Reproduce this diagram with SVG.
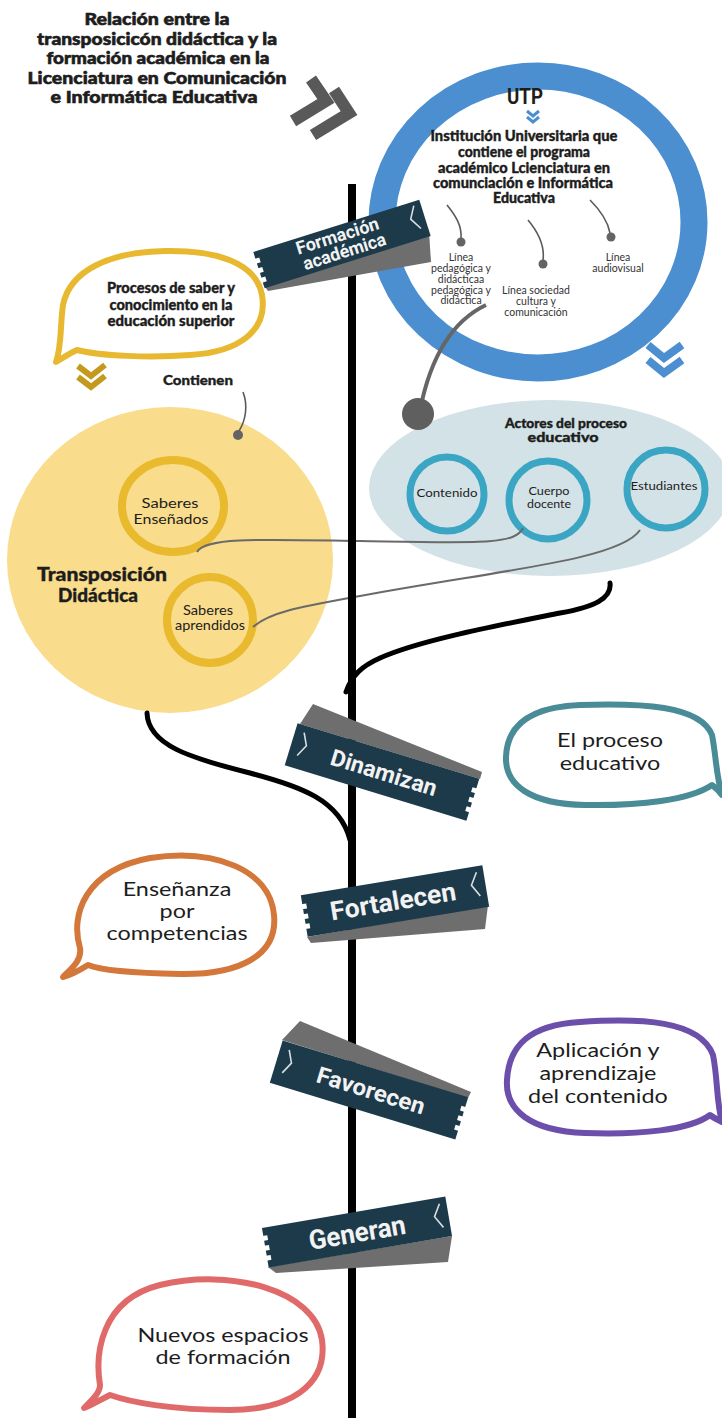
<svg xmlns="http://www.w3.org/2000/svg" width="722" height="1418" viewBox="0 0 722 1418">
<style>
.t{font-family:Lato,"Open Sans",sans-serif;fill:#1d1d1d}
.b{font-weight:900;stroke:#1d1d1d;stroke-width:0.35}
.hv{stroke-width:0.6}
.m{text-anchor:middle}
.sg{font-family:Roboto,"DejaVu Sans",sans-serif;font-weight:700;fill:#f2f2f2;text-anchor:middle}
.navy{fill:#1c3a4a}
.shade{fill:#6e6e6e}
.notch{fill:#ffffff}
.brk{fill:none;stroke:#d8dfe3;stroke-width:1.6}
.lbl{font-size:10.5px;fill:#333333}
.bub{fill:none;stroke-width:6;stroke-linejoin:round}
.bt{font-size:20px}
.thin{fill:none;stroke:#5a5a5a;stroke-width:1.6}
.dot{fill:#646464}
.blk{fill:none;stroke:#000000;stroke-width:5;stroke-linecap:round}
.gline{fill:none;stroke:#6a6a6a;stroke-width:2}
.teal{fill:none;stroke:#3ba6c3;stroke-width:7}
.yring{fill:none;stroke:#e9ba2d;stroke-width:8}
</style>
<rect x="0" y="0" width="722" height="1418" fill="#ffffff"/>

<g id="title">
<text class="t b hv m" x="157" y="25" font-size="17" textLength="145" lengthAdjust="spacingAndGlyphs">Relación entre la</text>
<text class="t b hv m" x="157" y="44.5" font-size="17" textLength="240" lengthAdjust="spacingAndGlyphs">transposicicón didáctica y la</text>
<text class="t b hv m" x="158" y="64" font-size="17" textLength="223" lengthAdjust="spacingAndGlyphs">formación académica en la</text>
<text class="t b hv m" x="157" y="83.5" font-size="17" textLength="259" lengthAdjust="spacingAndGlyphs">Licenciatura en Comunicación</text>
<text class="t b hv m" x="154" y="103" font-size="17" textLength="207" lengthAdjust="spacingAndGlyphs">e Informática Educativa</text>
<g fill="none" stroke="#595959" stroke-width="12" stroke-linejoin="miter" stroke-miterlimit="10">
<path d="M311,79 L326,101 L293,121"/>
<path d="M334,90 L349,113 L313,135"/>
</g>
</g>

<g id="utp">
<ellipse cx="538" cy="222" rx="156" ry="146" fill="#ffffff" stroke="#4b8fd0" stroke-width="27"/>
<text x="525" y="104" font-family="Roboto,sans-serif" font-weight="700" font-size="22" fill="#1d1d1d" text-anchor="middle" textLength="36" lengthAdjust="spacingAndGlyphs">UTP</text>
<g fill="none" stroke="#4b8fd0" stroke-width="3">
<path d="M527,111 L533,116 L539,111"/>
<path d="M527,117 L533,122 L539,117"/>
</g>
<text class="t b m" x="524" y="141" font-size="14.5" textLength="187" lengthAdjust="spacingAndGlyphs">Institución Universitaria que</text>
<text class="t b m" x="524" y="157" font-size="14.5" textLength="132" lengthAdjust="spacingAndGlyphs">contiene el programa</text>
<text class="t b m" x="524" y="173" font-size="14.5" textLength="172" lengthAdjust="spacingAndGlyphs">académico Lcienciatura en</text>
<text class="t b m" x="523" y="188" font-size="14.5" textLength="180" lengthAdjust="spacingAndGlyphs">comunciación e Informática</text>
<text class="t b m" x="524" y="203" font-size="14.5" textLength="62" lengthAdjust="spacingAndGlyphs">Educativa</text>
<g class="t lbl m">
<text x="461" y="261">Línea</text>
<text x="461" y="272">pedagógica y</text>
<text x="461" y="283">didácticaa</text>
<text x="461" y="294">pedagógica y</text>
<text x="461" y="304">didáctica</text>
<text x="536" y="294">Línea sociedad</text>
<text x="536" y="305">cultura y</text>
<text x="536" y="316">comunicación</text>
<text x="618" y="261">Línea</text>
<text x="618" y="272">audiovisual</text>
</g>
<g fill="none" stroke="#4b8fd0" stroke-width="8">
<path d="M648,345 L664,358 L682,345"/>
<path d="M648,360 L664,373 L682,360"/>
</g>
</g>

<g id="actores">
<ellipse cx="550" cy="488" rx="181" ry="88" fill="#d3e2e6"/>
<text class="t b m" x="566" y="428" font-size="13" textLength="122" lengthAdjust="spacingAndGlyphs">Actores del proceso</text>
<text class="t b m" x="563" y="442" font-size="13" textLength="71" lengthAdjust="spacingAndGlyphs">educativo</text>
</g>
<g id="contenido">
<circle class="teal" cx="447" cy="494" r="37"/>
<text class="t m" x="447" y="497" font-size="12" textLength="61" lengthAdjust="spacingAndGlyphs">Contenido</text>
</g>
<g id="cuerpo">
<circle class="teal" cx="548" cy="500" r="39"/>
<text class="t m" x="549" y="495" font-size="12" textLength="41" lengthAdjust="spacingAndGlyphs">Cuerpo</text>
<text class="t m" x="549" y="508" font-size="12" textLength="44" lengthAdjust="spacingAndGlyphs">docente</text>
</g>
<g id="estudiantes">
<circle class="teal" cx="666" cy="489" r="39"/>
<text class="t m" x="664" y="490" font-size="12" textLength="67" lengthAdjust="spacingAndGlyphs">Estudiantes</text>
</g>

<g id="procesos">
<path class="bub" stroke="#e8b930" d="M77,350 C100,356 150,358 190,355 C240,352 268,330 262,295 C256,262 215,250 165,251 C110,252 70,270 63,305 C60,325 62,345 56,362 C63,358 70,353 77,350 Z"/>
<text class="t b m" x="171" y="293" font-size="14.5" textLength="128" lengthAdjust="spacingAndGlyphs">Procesos de saber y</text>
<text class="t b m" x="171" y="310" font-size="14.5" textLength="123" lengthAdjust="spacingAndGlyphs">conocimiento en la</text>
<text class="t b m" x="171" y="326" font-size="14.5" textLength="127" lengthAdjust="spacingAndGlyphs">educación superior</text>
<g fill="none" stroke="#c49a1e" stroke-width="6">
<path d="M78,366 L91,376 L105,365"/>
<path d="M78,377 L91,387 L105,376"/>
</g>
<text class="t b m" x="198" y="385" font-size="14" textLength="70" lengthAdjust="spacingAndGlyphs">Contienen</text>
</g>

<g id="transposicion">
<ellipse cx="170" cy="560" rx="163" ry="153" fill="#f9dc8c"/>
<text class="t b m" x="102" y="581" font-size="19" textLength="130" lengthAdjust="spacingAndGlyphs">Transposición</text>
<text class="t b m" x="98" y="602" font-size="19" textLength="80" lengthAdjust="spacingAndGlyphs">Didáctica</text>
</g>
<g id="ensenados">
<ellipse class="yring" cx="173" cy="506" rx="51" ry="46"/>
<text class="t m" x="170" y="508" font-size="13.5" textLength="57" lengthAdjust="spacingAndGlyphs">Saberes</text>
<text class="t m" x="171" y="524" font-size="13.5" textLength="75" lengthAdjust="spacingAndGlyphs">Enseñados</text>
</g>
<g id="aprendidos">
<circle class="yring" cx="210" cy="620" r="43"/>
<text class="t m" x="208" y="615" font-size="12.5" textLength="50" lengthAdjust="spacingAndGlyphs">Saberes</text>
<text class="t m" x="210" y="630" font-size="12.5" textLength="70" lengthAdjust="spacingAndGlyphs">aprendidos</text>
</g>

<g id="b-proceso">
<path class="bub" stroke="#4a8b98" d="M712,785 C690,800 640,806 585,805 C530,804 505,785 506,757 C507,725 530,707 580,705 C640,703 700,705 712,735 C716,755 716,775 722,795 C720,792 716,788 712,785 Z"/>
<g transform="matrix(1.17 0 0 1 -103.7 0)">
<text class="t bt m" x="610" y="747">El proceso</text>
<text class="t bt m" x="610" y="770">educativo</text>
</g>
</g>
<g id="b-ensenanza">
<path class="bub" stroke="#d4773b" d="M80,948 C70,915 85,870 150,858 C215,848 270,870 274,915 C278,955 240,975 180,974 C130,973 100,970 88,965 C80,970 71,975 63,977 C72,968 82,960 80,948 Z"/>
<g transform="matrix(1.17 0 0 1 -30.1 0)">
<text class="t bt m" x="177" y="896">Enseñanza</text>
<text class="t bt m" x="177" y="918">por</text>
<text class="t bt m" x="177" y="940">competencias</text>
</g>
</g>
<g id="b-aplicacion">
<path class="bub" stroke="#6b4fab" d="M710,1115 C690,1130 640,1135 585,1133 C530,1131 505,1110 507,1080 C509,1045 530,1025 580,1022 C640,1018 700,1020 713,1055 C718,1080 716,1100 722,1122 C718,1120 714,1118 710,1115 Z"/>
<g transform="matrix(1.17 0 0 1 -101.7 0)">
<text class="t bt m" x="598" y="1057">Aplicación y</text>
<text class="t bt m" x="598" y="1080">aprendizaje</text>
<text class="t bt m" x="598" y="1103">del contenido</text>
</g>
</g>
<g id="b-nuevos">
<path class="bub" stroke="#e06a6a" d="M100,1385 C95,1355 100,1300 160,1285 C230,1268 315,1290 322,1340 C328,1385 290,1410 230,1410 C170,1410 130,1402 110,1395 C100,1400 92,1405 84,1408 C92,1400 100,1393 100,1385 Z"/>
<g transform="matrix(1.17 0 0 1 -37.9 0)">
<text class="t bt m" x="223" y="1342">Nuevos espacios</text>
<text class="t bt m" x="223" y="1364">de formación</text>
</g>
</g>

<g id="connectors">
<path class="thin" d="M447,205 C455,215 462,225 461,238"/>
<circle class="dot" cx="461" cy="242" r="4.5"/>
<path class="thin" d="M528,220 C538,232 545,245 543,260"/>
<circle class="dot" cx="543" cy="264" r="4.5"/>
<path class="thin" d="M590,200 C600,210 608,222 610,233"/>
<circle class="dot" cx="611" cy="237" r="4.5"/>
<path class="thin" d="M243,392 C248,405 246,420 239,431"/>
<circle class="dot" cx="238" cy="435" r="5"/>
<path fill="none" stroke="#666666" stroke-width="4" d="M486,305 C450,322 430,360 420,410"/>
<circle fill="#5f5f5f" cx="418" cy="414" r="16"/>
<path class="gline" d="M523,528 C515,545 480,543 360,541 C250,539 205,538 197,552"/>
<path class="gline" d="M640,530 C620,560 500,570 360,596 C300,607 270,612 253,627"/>
<path class="blk" d="M610,583 C612,598 595,607 560,613 C500,625 420,640 380,658 C362,666 352,675 346,692"/>
<path class="blk" d="M147,713 C148,745 190,758 250,773 C300,786 340,800 350,840"/>
</g>

<rect id="pole" x="348" y="184" width="8" height="1234" fill="#000000"/>

<g id="s-formacion">
<polygon class="shade" points="263,284 429,232 431,262 268,291"/>
<g transform="translate(342,244) rotate(-17.5)">
<rect class="navy" x="-87" y="-19" width="174" height="38"/>
<rect class="notch" x="-88" y="-12" width="5" height="5"/>
<rect class="notch" x="-88" y="-2" width="5" height="5"/>
<rect class="notch" x="-88" y="8" width="5" height="5"/>
<path class="brk" d="M80,-15 L73,-3 L80,9"/>
<text class="sg" x="-2" y="-3" font-size="18" textLength="86" lengthAdjust="spacingAndGlyphs">Formación</text>
<text class="sg" x="0" y="14" font-size="18" textLength="86" lengthAdjust="spacingAndGlyphs">académica</text>
</g>
</g>

<g id="s-dinamizan">
<polygon class="shade" points="300,724 313,704 482,772 480,779"/>
<g transform="translate(382,772) rotate(17)">
<rect class="navy" x="-95" y="-22" width="190" height="44"/>
<rect class="notch" x="91" y="-12" width="5" height="5"/>
<rect class="notch" x="91" y="-2" width="5" height="5"/>
<rect class="notch" x="91" y="8" width="5" height="5"/>
<path class="brk" d="M-86,-15 L-80,-3 L-86,9"/>
<text class="sg" x="2" y="8" font-size="23" textLength="110" lengthAdjust="spacingAndGlyphs">Dinamizan</text>
</g>
</g>

<g id="s-fortalecen">
<polygon class="shade" points="307,937 488,905 485,929 311,943"/>
<g transform="translate(395,901) rotate(-9.4)">
<rect class="navy" x="-92" y="-21" width="184" height="42"/>
<rect class="notch" x="-93" y="-12" width="5" height="5"/>
<rect class="notch" x="-93" y="-2" width="5" height="5"/>
<rect class="notch" x="-93" y="8" width="5" height="5"/>
<path class="brk" d="M85,-15 L78,-3 L85,9"/>
<text class="sg" x="-2" y="9" font-size="26" textLength="127" lengthAdjust="spacingAndGlyphs">Fortalecen</text>
</g>
</g>

<g id="s-favorecen">
<polygon class="shade" points="282,1040 300,1021 471,1092 468,1098"/>
<g transform="translate(369,1090) rotate(17)">
<rect class="navy" x="-97" y="-22" width="194" height="44"/>
<rect class="notch" x="93" y="-12" width="5" height="5"/>
<rect class="notch" x="93" y="-2" width="5" height="5"/>
<rect class="notch" x="93" y="8" width="5" height="5"/>
<path class="brk" d="M-88,-15 L-82,-3 L-88,9"/>
<text class="sg" x="2" y="8" font-size="23" textLength="112" lengthAdjust="spacingAndGlyphs">Favorecen</text>
</g>
</g>

<g id="s-generan">
<polygon class="shade" points="268,1267 452,1236 448,1262 276,1273"/>
<g transform="translate(357,1232) rotate(-9.7)">
<rect class="navy" x="-93" y="-20" width="186" height="40"/>
<rect class="notch" x="-94" y="-12" width="5" height="5"/>
<rect class="notch" x="-94" y="-2" width="5" height="5"/>
<rect class="notch" x="-94" y="8" width="5" height="5"/>
<path class="brk" d="M86,-14 L79,-2 L86,10"/>
<text class="sg" x="0" y="10" font-size="27" textLength="98" lengthAdjust="spacingAndGlyphs">Generan</text>
</g>
</g>
</svg>
